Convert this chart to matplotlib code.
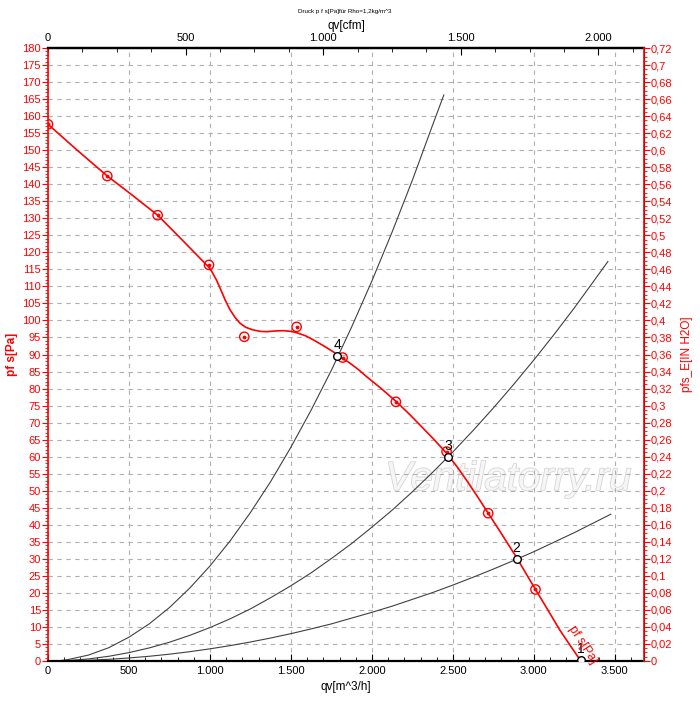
import matplotlib
matplotlib.use("Agg")
import matplotlib.pyplot as plt
import matplotlib.patheffects as pe
from matplotlib.ticker import MultipleLocator, FixedLocator, FuncFormatter

plt.rcParams["font.family"] = ["Liberation Sans", "DejaVu Sans"]

# fan curve pf s [Pa] over qv [m^3/h] (smooth line)
fan_q = [0, 180, 366, 520, 677, 800, 897, 950, 994, 1012, 1040, 1066, 1093,
         1123, 1155, 1185, 1220, 1267, 1310, 1350, 1400, 1453, 1500, 1535,
         1590, 1638, 1700, 1761, 1802, 1860, 1916, 1967, 2060, 2152, 2235,
         2317, 2390, 2461, 2525, 2584, 2650, 2718, 2805, 2893, 2950, 3010,
         3085, 3160, 3225, 3290]
fan_p = [157.6, 150.0, 142.4, 136.8, 130.9, 125.0, 120.3, 117.7, 115.6,
         114.3, 111.9, 109.1, 106.1, 103.2, 100.9, 99.2, 98.0, 97.2, 96.8,
         96.7, 96.9, 97.0, 96.8, 96.4, 95.5, 94.3, 92.6, 90.8, 89.4, 87.6,
         85.6, 83.5, 79.9, 76.1, 72.3, 68.3, 64.7, 61.0, 57.1, 53.1, 48.4,
         43.4, 37.0, 30.4, 25.8, 21.0, 15.1, 9.1, 4.5, 0.0]

# measured points (red circles)
meas_q = [0, 366, 677, 994, 1212, 1535, 1819, 2148, 2461, 2718, 3010]
meas_p = [157.6, 142.4, 130.9, 116.3, 95.2, 98.1, 89.1, 76.1, 61.5, 43.4, 21.0]

# system curves
sys_q = [
    [60, 125, 250, 375, 500, 625, 750, 875, 1000, 1125, 1250, 1375, 1500,
     1625, 1750, 1875, 2000, 2125, 2250, 2375, 2444],
    [60, 125, 250, 375, 500, 625, 750, 875, 1000, 1125, 1250, 1375, 1500,
     1625, 1750, 1875, 2000, 2125, 2250, 2375, 2500, 2625, 2750, 2875,
     3000, 3125, 3250, 3375, 3457],
    [60, 125, 250, 375, 500, 625, 750, 875, 1000, 1125, 1250, 1375, 1500,
     1625, 1750, 1875, 2000, 2125, 2250, 2375, 2500, 2625, 2750, 2875,
     3000, 3125, 3250, 3375, 3475],
]
sys_p = [
    [0.0, 0.44, 1.74, 3.9, 7.0, 10.9, 15.7, 21.4, 27.9, 35.3, 43.6, 52.7,
     62.8, 73.7, 85.4, 98.1, 111.6, 126.0, 141.2, 157.4, 166.2],
    [0.0, 0.15, 0.61, 1.38, 2.46, 3.84, 5.52, 7.52, 9.82, 12.4, 15.3, 18.6,
     22.1, 25.9, 30.1, 34.5, 39.3, 44.3, 49.7, 55.4, 61.4, 67.7, 74.3,
     81.2, 88.4, 95.9, 103.7, 111.9, 117.3],
    [0.0, 0.06, 0.22, 0.5, 0.89, 1.39, 2.0, 2.73, 3.57, 4.52, 5.58, 6.75,
     8.03, 9.43, 10.9, 12.6, 14.3, 16.1, 18.1, 20.1, 22.3, 24.6, 27.0,
     29.5, 32.1, 34.9, 37.7, 40.7, 43.1],
]

# operating points
op_labels = ["1", "2", "3", "4"]
op_q = [3290, 2893, 2469, 1787]
op_p = [0.3, 29.9, 60.0, 89.5]

x_max = 3680
p_max = 180
inh2o_max = 0.72
cfm_factor = 1.699
cfm_ticks = [0, 500, 1000, 1500, 2000]

RED = "#ff0000"


def dot_fmt(v, pos):
    return f"{int(round(v)):,}".replace(",", ".")


def comma_fmt(v, pos):
    s = f"{v:.2f}".rstrip("0").rstrip(".")
    return s.replace(".", ",")


fig = plt.figure(figsize=(7.0, 7.06), dpi=100)
ax = fig.add_axes([48 / 700, 45 / 706, (644 - 48) / 700, (661 - 48) / 706])

ax.set_xlim(0, x_max)
ax.set_ylim(0, p_max)

ax.xaxis.set_major_locator(MultipleLocator(500))
ax.xaxis.set_minor_locator(MultipleLocator(100))
ax.yaxis.set_major_locator(MultipleLocator(5))
ax.yaxis.set_minor_locator(MultipleLocator(1))
ax.xaxis.set_major_formatter(FuncFormatter(dot_fmt))

ax.grid(True, which="major", linestyle=(0, (4, 4)), color="#b0b0b0", lw=0.8)

for q, p in zip(sys_q, sys_p):
    ax.plot(q, p, color="#404040", lw=0.8, zorder=2)

ax.plot(fan_q, fan_p, color=RED, lw=1.2, zorder=3)
ax.scatter(meas_q, meas_p, s=45, facecolors="none", edgecolors=RED,
           linewidths=1.0, zorder=4)
ax.scatter(meas_q, meas_p, s=3, color=RED, zorder=4)

ax.scatter(op_q, op_p, s=30, facecolors="white", edgecolors="black",
           linewidths=1.0, zorder=5)
for lab, q, p in zip(op_labels, op_q, op_p):
    ax.annotate(lab, (q, p), xytext=(0, 3), textcoords="offset points",
                ha="center", va="bottom", fontsize=10, color="black", zorder=6)

ax.text(3300, 4.7, "pf s[Pa]", color=RED, fontsize=9, rotation=-57,
        ha="center", va="center", rotation_mode="anchor", zorder=6)

ax.text(0.772, 0.297, "Ventilatorry.ru", transform=ax.transAxes,
        fontsize=29, style="italic", color="#f6f6f6", ha="center",
        va="center", zorder=1,
        path_effects=[pe.withStroke(linewidth=1.2, foreground="#d6d6d6")])

ax.tick_params(axis="x", which="both", direction="in", colors="black",
               labelsize=8)
ax.tick_params(axis="x", which="major", length=5)
ax.tick_params(axis="x", which="minor", length=3)
ax.tick_params(axis="y", which="both", direction="out", colors=RED,
               labelsize=8, pad=1)
ax.tick_params(axis="y", which="major", length=4)
ax.tick_params(axis="y", which="minor", length=2)

ax.spines["bottom"].set_linewidth(1.6)
ax.spines["top"].set_linewidth(1.6)
ax.spines["left"].set_color(RED)
ax.spines["left"].set_linewidth(1.2)

ax.set_xlabel("qv[m^3/h]", fontsize=8.5, labelpad=4)
ax.set_ylabel("pf s[Pa]", fontsize=8.5, color=RED, fontweight="bold")
ax.yaxis.set_label_coords(-0.05, 0.5)

# right axis in IN H2O
ax2 = ax.twinx()
ax2.set_ylim(0, inh2o_max)
ax2.yaxis.set_major_locator(MultipleLocator(0.02))
ax2.yaxis.set_minor_locator(MultipleLocator(0.005))
ax2.yaxis.set_major_formatter(FuncFormatter(comma_fmt))
ax2.tick_params(axis="y", which="both", direction="out", colors=RED,
                labelsize=8, pad=1)
ax2.tick_params(axis="y", which="major", length=4)
ax2.tick_params(axis="y", which="minor", length=2)
ax2.spines["right"].set_color(RED)
ax2.spines["right"].set_linewidth(1.2)
ax2.spines["left"].set_visible(False)
ax2.spines["top"].set_visible(False)
ax2.spines["bottom"].set_visible(False)
ax2.set_ylabel("pfs_E[IN H2O]", fontsize=8.5, color=RED, labelpad=6)

# top axis in cfm
top = ax.secondary_xaxis("top", functions=(lambda v: v / cfm_factor,
                                           lambda v: v * cfm_factor))
top.xaxis.set_major_locator(FixedLocator(cfm_ticks))
top.xaxis.set_minor_locator(MultipleLocator(125))
top.xaxis.set_major_formatter(FuncFormatter(dot_fmt))
top.tick_params(axis="x", which="both", direction="in", labelsize=8)
top.tick_params(axis="x", which="major", length=5)
top.tick_params(axis="x", which="minor", length=3)
top.spines["top"].set_linewidth(1.6)
top.set_xlabel("qv[cfm]", fontsize=8.5, labelpad=3)

fig.text(345 / 700, 1 - 12 / 706, "Druck p f s[Pa]für Rho=1,2kg/m^3",
         fontsize=4.5, ha="center", va="center")

fig.savefig("out.png", dpi=100)
